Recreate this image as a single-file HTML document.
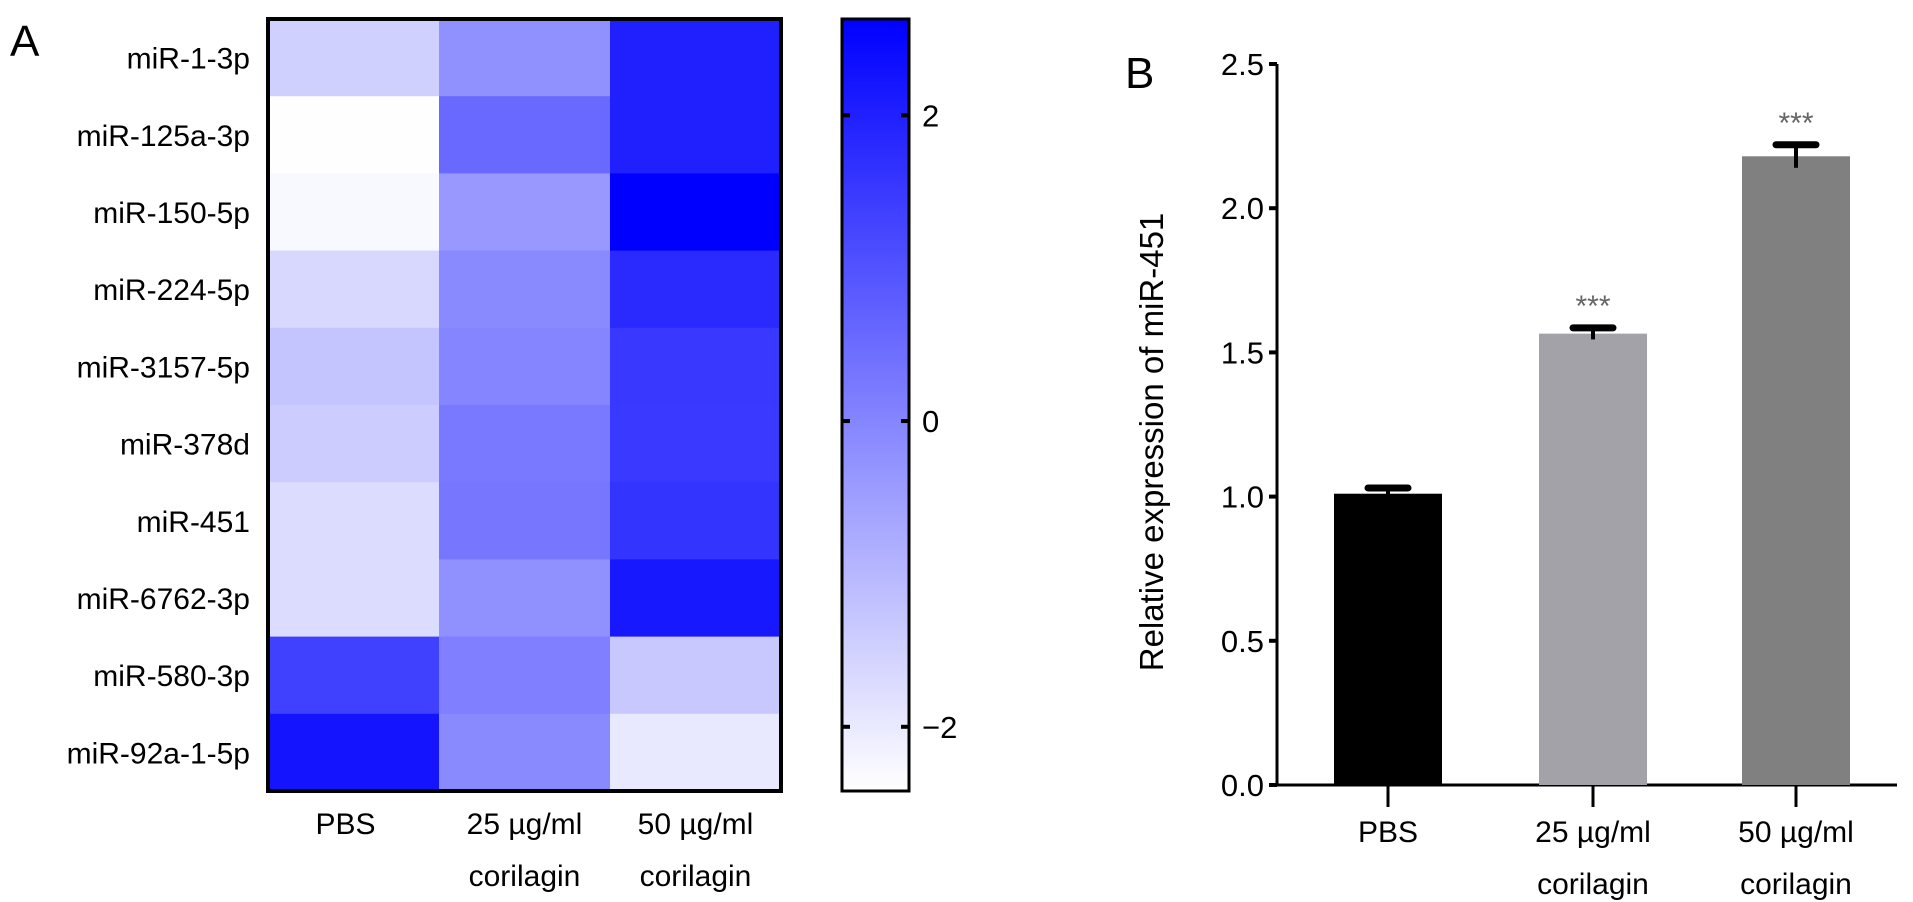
<!DOCTYPE html>
<html><head><meta charset="utf-8"><style>
html,body{margin:0;padding:0;background:#fff;}
svg{display:block;font-family:"Liberation Sans",Arial,sans-serif;}
</style></head><body>
<svg id="fig" width="1913" height="902" viewBox="0 0 1913 902">
<defs><linearGradient id="cb" x1="0" y1="1" x2="0" y2="0"><stop offset="0" stop-color="#ffffff"/><stop offset="1" stop-color="#0000ff"/></linearGradient></defs>
<text x="10" y="56" font-size="44">A</text>
<text x="1125" y="88" font-size="44">B</text>
<g id="heat"></g>
<g id="cbar"></g>
<g id="bars"></g>
</svg>
<script>
const rows = ["miR-1-3p","miR-125a-3p","miR-150-5p","miR-224-5p","miR-3157-5p","miR-378d","miR-451","miR-6762-3p","miR-580-3p","miR-92a-1-5p"];
const cols = [["PBS"],["25 µg/ml","corilagin"],["50 µg/ml","corilagin"]];
const heatPBS = [-1.49,-2.4,-2.28,-1.65,-1.25,-1.41,-1.73,-1.73,1.37,2.23];
const heat25 = [-0.22,0.56,-0.38,-0.1,0.0,0.23,0.3,-0.22,0.12,-0.1];
const heat50 = [2.0,2.0,2.63,1.8,1.52,1.5,1.6,2.15,-1.33,-1.96];
const cbTicks = [2,0,-2];
const barCats = [["PBS"],["25 µg/ml","corilagin"],["50 µg/ml","corilagin"]];
const barVals = [1.01,1.565,2.18];
const barErr = [0.02,0.02,0.04];
const barStars = ["","***","***"];
const yTicks = [0,0.5,1.0,1.5,2.0,2.5];

const NS="http://www.w3.org/2000/svg";
function mk(p,t,a,txt){const e=document.createElementNS(NS,t);for(const k in a)e.setAttribute(k,a[k]);if(txt!==undefined)e.textContent=txt;p.appendChild(e);return e;}
const H=document.getElementById('heat');
const hx0=268,hx1=781,hy0=19,hy1=791;
const vmin=-2.42,vmax=2.63;
const cw=(hx1-hx0)/cols.length, rh=(hy1-hy0)/rows.length;
function color(v){let f=(v-vmin)/(vmax-vmin);f=Math.max(0,Math.min(1,f));const c=Math.round(255*(1-f));return `rgb(${c},${c},255)`;}
const series=[heatPBS,heat25,heat50];
series.forEach((s,ci)=>{s.forEach((v,ri)=>{
 const r=mk(H,'rect',{x:hx0+ci*cw,y:hy0+ri*rh,width:cw+0.5,height:rh+0.5,fill:color(v)});
 
 
});});
mk(H,'rect',{x:hx0,y:hy0,width:hx1-hx0,height:hy1-hy0,fill:'none',stroke:'#000','stroke-width':4});
rows.forEach((n,ri)=>{const t=mk(H,'text',{x:250,y:hy0+ri*rh+rh/2+11,'font-size':30,'text-anchor':'end'},n);
 });
cols.forEach((c,ci)=>{c.forEach((l,li)=>{const t=mk(H,'text',{x:hx0+ci*cw+cw/2+(ci==0?-8:0),y:834+li*52,'font-size':30,'text-anchor':'middle'},l);
 });});
const C=document.getElementById('cbar');
const cx0=842,cx1=909;
const cy=v=>hy1-(v-vmin)/(vmax-vmin)*(hy1-hy0);
mk(C,'rect',{x:cx0,y:hy0,width:cx1-cx0,height:hy1-hy0,fill:'url(#cb)',stroke:'#000','stroke-width':3});
cbTicks.forEach(v=>{const y=cy(v);
 mk(C,'line',{x1:cx0,x2:cx0+8,y1:y,y2:y,stroke:'#000','stroke-width':4});
 mk(C,'line',{x1:cx1-8,x2:cx1,y1:y,y2:y,stroke:'#000','stroke-width':4});
 const t=mk(C,'text',{x:922,y:y+11,'font-size':31},v<0?'\u2212'+Math.abs(v):String(v));
 });
const B=document.getElementById('bars');
const ax=1277,ay0=785,ayTop=64,axEnd=1897;
const yS=v=>ay0-v/2.5*(ay0-ayTop);
const centers=[1388,1593,1796];
const bw=108;
const fills=["#000000","#a2a2a8","#808080"];
mk(B,'line',{x1:ax,x2:ax,y1:ayTop,y2:ay0,stroke:'#000','stroke-width':3});
mk(B,'line',{x1:ax,x2:axEnd,y1:ay0,y2:ay0,stroke:'#000','stroke-width':3});
yTicks.forEach(v=>{const y=yS(v);mk(B,'line',{x1:ax-8,x2:ax,y1:y,y2:y,stroke:'#000','stroke-width':4});
 const t=mk(B,'text',{x:1264,y:y+11,'font-size':31,'text-anchor':'end'},v.toFixed(1));
 });
const yt=mk(B,'text',{x:0,y:0,'font-size':33,'text-anchor':'middle',transform:'translate(1163,442) rotate(-90)'},'Relative expression of miR-451');

barVals.forEach((v,i)=>{const c=centers[i];
 const r=mk(B,'rect',{x:c-bw/2,y:yS(v),width:bw,height:ay0-yS(v),fill:fills[i]});
 
 const yt2=yS(v+barErr[i]), yb=yS(v-barErr[i]);
 mk(B,'line',{x1:c,x2:c,y1:yt2,y2:yb,stroke:'#000','stroke-width':4});
 mk(B,'line',{x1:c-20,x2:c+20,y1:yt2,y2:yt2,stroke:'#000','stroke-width':7,'stroke-linecap':'round'});
 if(barStars[i]){const s=mk(B,'text',{x:c,y:yt2-12,'font-size':30,'text-anchor':'middle',fill:'#666'},barStars[i]);
  }
 mk(B,'line',{x1:c,x2:c,y1:ay0,y2:ay0+22,stroke:'#000','stroke-width':3});
 barCats[i].forEach((l,li)=>{const t=mk(B,'text',{x:c,y:842+li*52,'font-size':30,'text-anchor':'middle'},l);
  });
});
</script>
</body></html>
